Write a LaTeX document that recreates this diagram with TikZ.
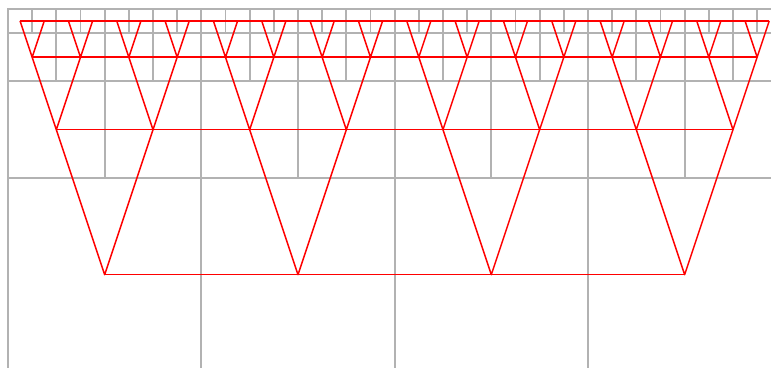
\documentclass[tikz,border=0pt]{standalone}
\usepackage{tikz}

\begin{document}
\begin{tikzpicture}[x=1pt, y=-1pt,
    gridline/.style={draw=gray!60, line width=1.8pt},
    treeline/.style={draw=red, line width=1.5pt, line join=round}]
    \useasboundingbox (0,0) rectangle (771,367);
    \clip (0,0) rectangle (771,367);
    \pgfmathsetmacro{\side}{193.33}

    % -------------------------
    % Grid of cells, halving row by row
    % -------------------------
    \foreach \k in {0,...,3} {
        \pgfmathsetmacro{\cell}{\side/2^\k}
        \pgfmathsetmacro{\rowtop}{8.8+\side*(1/2^\k-1/8)}
        \pgfmathtruncatemacro{\last}{4*2^\k-1}
        \foreach \i in {0,...,\last} {
            \draw[gridline] ({8+\i*\cell},\rowtop) rectangle ++(\cell,\cell);
            \coordinate (n-\k-\i) at ({8+(\i+0.5)*\cell},{\rowtop+\cell/2});
        }
    }

    % -------------------------
    % Red tree: each centre to its two children above
    % -------------------------
    \foreach \k in {0,1,2} {
        \pgfmathtruncatemacro{\up}{\k+1}
        \pgfmathtruncatemacro{\last}{4*2^\k-1}
        \foreach \i in {0,...,\last} {
            \pgfmathtruncatemacro{\lft}{2*\i}
            \pgfmathtruncatemacro{\rgt}{2*\i+1}
            \draw[treeline] (n-\up-\lft) -- (n-\k-\i) -- (n-\up-\rgt);
        }
    }

    % Horizontal line through each row of centres
    \foreach \k in {0,...,3} {
        \pgfmathtruncatemacro{\last}{4*2^\k-1}
        \draw[treeline] (n-\k-0) -- (n-\k-\last);
    }
\end{tikzpicture}
\end{document}
